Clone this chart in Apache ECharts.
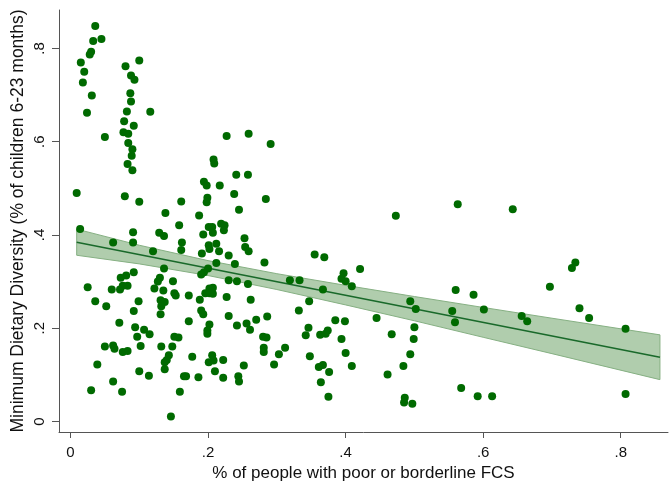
<!DOCTYPE html>
<html>
<head>
<meta charset="utf-8">
<script src="https://cdn.jsdelivr.net/npm/echarts@6/dist/echarts.min.js"></script>
<style>
html,body{margin:0;padding:0;background:#fff;}
#chart{width:669px;height:481px;}
</style>
</head>
<body>
<div id="chart"></div>
<script>
// Scatter: [share with poor/borderline FCS, MDD share]
const districts = [
[0.036,0.848],[0.045,0.820],[0.033,0.816],[0.030,0.793],[0.028,0.787],[0.015,0.770],[0.020,0.750],[0.018,0.727],[0.031,0.699],[0.024,0.662],
[0.050,0.610],[0.009,0.490],[0.079,0.483],[0.100,0.471],[0.161,0.472],[0.138,0.447],[0.100,0.774],[0.080,0.762],[0.088,0.742],[0.093,0.733],
[0.087,0.704],[0.088,0.686],[0.082,0.665],[0.116,0.664],[0.078,0.644],[0.092,0.634],[0.077,0.620],[0.084,0.617],[0.084,0.597],[0.090,0.584],
[0.089,0.570],[0.083,0.552],[0.090,0.539],
[0.158,0.421],[0.014,0.413],[0.091,0.406],[0.129,0.405],[0.136,0.398],[0.062,0.384],[0.091,0.384],[0.162,0.384],[0.161,0.368],[0.120,0.365],
[0.136,0.328],[0.092,0.320],[0.081,0.313],[0.073,0.308],[0.130,0.308],[0.149,0.301],[0.127,0.300],[0.076,0.291],[0.025,0.288],[0.083,0.291],
[0.060,0.283],[0.072,0.283],[0.122,0.285],[0.135,0.281],[0.151,0.275],[0.153,0.270],[0.036,0.258],[0.099,0.258],[0.131,0.260],[0.137,0.256],
[0.052,0.247],[0.132,0.247],[0.092,0.237],[0.131,0.230],[0.071,0.212],[0.094,0.202],[0.107,0.197],[0.115,0.187],[0.097,0.182],[0.151,0.182],
[0.157,0.180],[0.050,0.161],[0.062,0.163],[0.064,0.156],[0.102,0.162],[0.132,0.161],[0.148,0.161],[0.076,0.149],[0.083,0.151],[0.143,0.142],
[0.140,0.132],[0.137,0.127],[0.039,0.122],[0.137,0.112],[0.100,0.108],[0.114,0.098],[0.062,0.086],[0.030,0.067],[0.075,0.064],[0.159,0.064],
[0.146,0.011],[0.165,0.097],
[0.227,0.612],[0.259,0.617],[0.291,0.595],[0.208,0.562],[0.209,0.553],[0.241,0.529],[0.258,0.529],[0.194,0.514],[0.198,0.506],[0.217,0.506],
[0.238,0.488],[0.199,0.480],[0.198,0.470],[0.284,0.477],[0.245,0.454],[0.187,0.442],[0.201,0.417],[0.206,0.417],[0.219,0.424],[0.224,0.421],
[0.223,0.410],[0.193,0.401],[0.207,0.405],[0.253,0.393],[0.201,0.378],[0.212,0.381],[0.254,0.374],[0.202,0.370],[0.216,0.365],[0.191,0.360],
[0.230,0.356],[0.259,0.365],
[0.212,0.340],[0.239,0.338],[0.282,0.341],[0.200,0.328],[0.194,0.320],[0.190,0.315],[0.230,0.303],[0.242,0.301],[0.258,0.295],[0.319,0.303],
[0.333,0.303],[0.172,0.270],[0.202,0.285],[0.207,0.287],[0.196,0.275],[0.202,0.275],[0.207,0.274],[0.227,0.267],[0.188,0.261],[0.262,0.261],
[0.190,0.238],[0.193,0.230],[0.230,0.226],[0.286,0.225],[0.270,0.218],[0.172,0.215],[0.256,0.210],[0.202,0.208],[0.242,0.206],[0.261,0.197],
[0.199,0.195],[0.199,0.188],[0.280,0.182],[0.285,0.180],[0.281,0.158],[0.281,0.149],[0.312,0.158],[0.303,0.144],[0.177,0.139],[0.206,0.142],
[0.201,0.127],[0.208,0.131],[0.222,0.132],[0.296,0.122],[0.252,0.120],[0.210,0.108],[0.168,0.097],[0.186,0.095],[0.222,0.094],[0.244,0.097],
[0.245,0.086],[0.332,0.238],
[0.473,0.441],[0.355,0.358],[0.369,0.352],[0.421,0.327],[0.397,0.318],[0.394,0.306],[0.400,0.301],[0.409,0.290],[0.367,0.283],[0.347,0.258],
[0.494,0.258],[0.502,0.241],[0.445,0.222],[0.385,0.217],[0.399,0.215],[0.346,0.201],[0.374,0.195],[0.342,0.185],[0.363,0.186],[0.371,0.188],
[0.500,0.202],[0.467,0.187],[0.394,0.177],[0.499,0.177],[0.400,0.147],[0.494,0.144],[0.348,0.140],[0.409,0.119],[0.367,0.121],[0.361,0.117],
[0.376,0.106],[0.484,0.119],[0.461,0.101],[0.364,0.084],[0.375,0.053],[0.486,0.051],[0.485,0.041],[0.497,0.038],
[0.563,0.466],[0.643,0.455],[0.734,0.341],[0.729,0.329],[0.560,0.282],[0.586,0.272],[0.697,0.289],[0.555,0.237],[0.559,0.213],[0.601,0.240],
[0.740,0.243],[0.754,0.222],[0.656,0.226],[0.664,0.215],[0.807,0.199],[0.568,0.072],[0.592,0.054],[0.613,0.054],[0.807,0.059]
];

// Fitted line and 95% CI band
const fitX = [0.009, 0.857];
const fitY = [0.3845, 0.1378];
const bandX     = [0.009, 0.1,   0.2,   0.3,   0.4,   0.5,   0.6,    0.7,    0.857];
const bandUpper = [0.4125,0.378, 0.345, 0.317, 0.292, 0.268, 0.2446, 0.2215, 0.1858];
const bandLower = [0.3565,0.338, 0.313, 0.283, 0.250, 0.216, 0.1806, 0.1455, 0.0898];

const xTickValues = [0, 0.2, 0.4, 0.6, 0.8];
const xTickLabels = ['0', '.2', '.4', '.6', '.8'];
const yTickValues = [0, 0.2, 0.4, 0.6, 0.8];
const yTickLabels = ['0', '.2', '.4', '.6', '.8'];

const xTitle = '% of people with poor or borderline FCS';
const yTitle = 'Minimum Dietary Diversity (% of children 6-23 months)';

function lab(values, labels) {
  return function (v) {
    for (let i = 0; i < values.length; i++) if (Math.abs(values[i] - v) < 1e-6) return labels[i];
    return '';
  };
}

const FONT = '"Liberation Sans", Arial, sans-serif';
const AXIS_COLOR = '#555';

const chart = echarts.init(document.getElementById('chart'), null, {renderer: 'canvas'});
chart.setOption({
  animation: false,
  backgroundColor: '#fff',
  grid: {left: 59, right: 1, top: 10, bottom: 49, containLabel: false, outerBoundsMode: 'none'},
  xAxis: {
    type: 'value', min: -0.0167, max: 0.8687,
    name: xTitle, nameLocation: 'middle', nameGap: 29,
    nameTextStyle: {fontFamily: FONT, fontSize: 17, color: '#111'},
    axisLine: {show: true, onZero: false, lineStyle: {color: AXIS_COLOR, width: 1}},
    axisTick: {show: true, length: 6, customValues: xTickValues, lineStyle: {color: AXIS_COLOR}},
    axisLabel: {show: true, customValues: xTickValues, formatter: lab(xTickValues, xTickLabels),
      margin: 13, fontFamily: FONT, fontSize: 15, color: '#111'},
    splitLine: {show: false}
  },
  yAxis: {
    type: 'value', min: -0.0225, max: 0.8824,
    name: yTitle, nameLocation: 'middle', nameGap: 32, nameRotate: 90, nameMoveOverlap: false,
    nameTextStyle: {fontFamily: FONT, fontSize: 17.5, color: '#111'},
    axisLine: {show: true, onZero: false, lineStyle: {color: AXIS_COLOR, width: 1}},
    axisTick: {show: true, length: 7, customValues: yTickValues, lineStyle: {color: AXIS_COLOR}},
    axisLabel: {show: true, customValues: yTickValues, formatter: lab(yTickValues, yTickLabels),
      rotate: 90, margin: 12, fontFamily: FONT, fontSize: 15, color: '#111'},
    splitLine: {show: false}
  },
  series: [
    {
      type: 'custom',
      z: 1,
      silent: true,
      clip: true,
      data: [[bandX[0], bandUpper[0]]],
      renderItem: function (params, api) {
        const pts = [];
        for (let i = 0; i < bandX.length; i++) pts.push(api.coord([bandX[i], bandUpper[i]]));
        for (let i = bandX.length - 1; i >= 0; i--) pts.push(api.coord([bandX[i], bandLower[i]]));
        return {type: 'polygon', shape: {points: pts},
          style: {fill: '#b0cdad', stroke: '#86b083', lineWidth: 1}};
      }
    },
    {
      type: 'line', z: 2, silent: true, symbol: 'none',
      data: fitX.map((x, i) => [x, fitY[i]]),
      lineStyle: {color: '#19692a', width: 1.6}
    },
    {
      type: 'scatter', z: 3, symbol: 'circle', symbolSize: 8,
      data: districts,
      itemStyle: {color: '#006a00', opacity: 1}
    }
  ]
});
</script>
</body>
</html>
